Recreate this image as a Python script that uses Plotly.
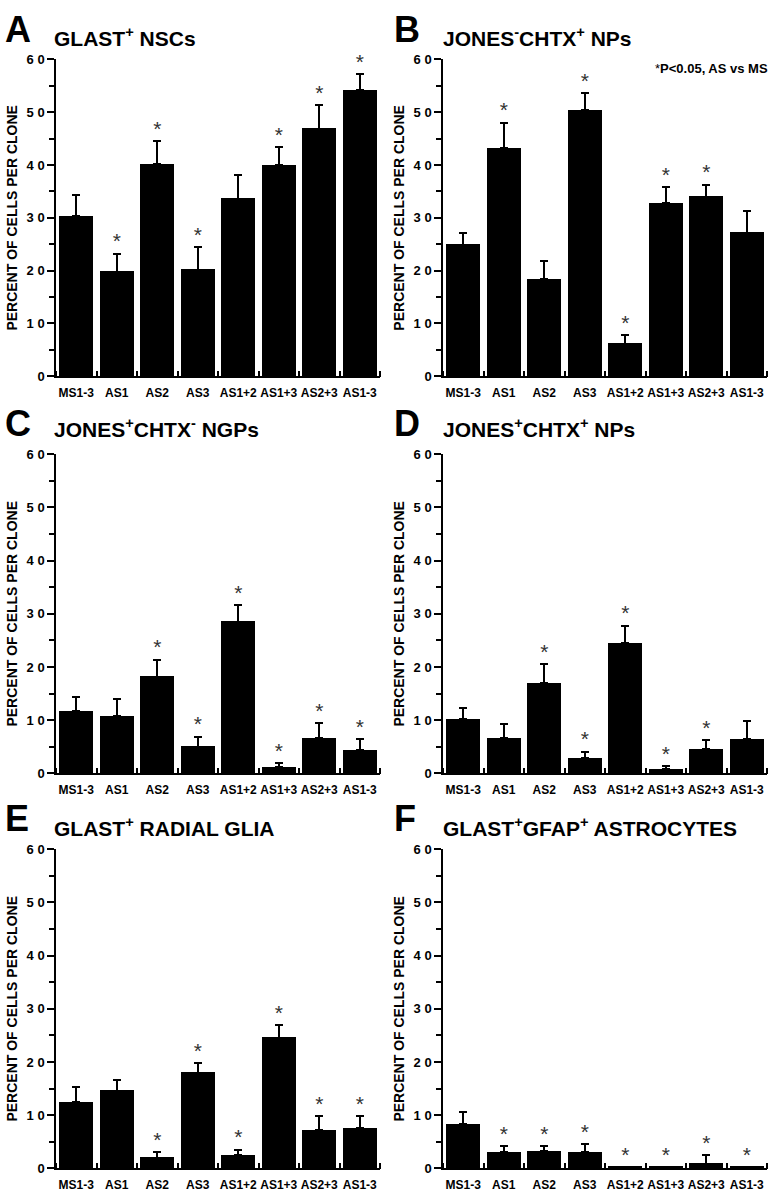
import plotly.graph_objects as go

categories = ["MS1-3", "AS1", "AS2", "AS3", "AS1+2", "AS1+3", "AS2+3", "AS1-3"]

# mean percent of cells per clone, upper SEM, significance flag (AS vs MS)
A_mean = [30.3, 19.8, 40.2, 20.2, 33.6, 40.0, 46.9, 54.2]
A_sem = [4.1, 3.4, 4.3, 4.3, 4.5, 3.4, 4.5, 3.0]
A_sig = [0, 1, 1, 1, 0, 1, 1, 1]

B_mean = [24.9, 43.2, 18.4, 50.4, 6.2, 32.8, 34.0, 27.2]
B_sem = [2.2, 4.8, 3.5, 3.2, 1.6, 3.0, 2.3, 4.0]
B_sig = [0, 1, 0, 1, 1, 1, 1, 0]

C_mean = [11.7, 10.7, 18.2, 5.0, 28.5, 1.1, 6.6, 4.3]
C_sem = [2.6, 3.3, 3.2, 1.9, 3.2, 0.8, 2.8, 2.1]
C_sig = [0, 0, 1, 1, 1, 1, 1, 1]

D_mean = [10.2, 6.6, 16.9, 2.8, 24.5, 0.8, 4.6, 6.4]
D_sem = [2.0, 2.6, 3.7, 1.3, 3.3, 0.6, 1.7, 3.5]
D_sig = [0, 0, 1, 1, 1, 1, 1, 0]

E_mean = [12.5, 14.6, 2.0, 18.0, 2.5, 24.6, 7.2, 7.6]
E_sem = [2.7, 2.1, 1.1, 1.8, 1.0, 2.4, 2.6, 2.2]
E_sig = [0, 0, 1, 1, 1, 1, 1, 1]

F_mean = [8.3, 3.0, 3.2, 3.0, 0.2, 0.2, 0.9, 0.2]
F_sem = [2.2, 1.2, 1.0, 1.5, 0.0, 0.0, 1.6, 0.0]
F_sig = [0, 1, 1, 1, 1, 1, 1, 1]

letters = ["A", "B", "C", "D", "E", "F"]
titles = [
    "GLAST<sup>+</sup> NSCs",
    "JONES<sup>-</sup>CHTX<sup>+</sup> NPs",
    "JONES<sup>+</sup>CHTX<sup>-</sup> NGPs",
    "JONES<sup>+</sup>CHTX<sup>+</sup> NPs",
    "GLAST<sup>+</sup> RADIAL GLIA",
    "GLAST<sup>+</sup>GFAP<sup>+</sup> ASTROCYTES",
]
y_ticks = [0, 10, 20, 30, 40, 50, 60]
y_ticktext = ["0", "1 0", "2 0", "3 0", "4 0", "5 0", "6 0"]
y_minor = [5, 15, 25, 35, 45, 55]
y_title = "PERCENT OF CELLS PER CLONE"
note = "*<b>P&lt;0.05, AS vs MS</b>"

panels = [
    (A_mean, A_sem, A_sig),
    (B_mean, B_sem, B_sig),
    (C_mean, C_sem, C_sig),
    (D_mean, D_sem, D_sig),
    (E_mean, E_sem, E_sig),
    (F_mean, F_sem, F_sig),
]

W, H = 772, 1200
FONT = "Liberation Sans"
col_x = [(56, 380), (443, 767)]
row_y = [(53, 374), (453, 776), (853, 1176)]
letter_x = [3, 392]
title_x = [52, 441]
letter_y = [23, 422, 822]
title_y = [30, 426, 830]

fig = go.Figure()
idx = [i for i in range(len(categories))]

for p, (mean, sem, sig) in enumerate(panels):
    r, c = divmod(p, 2)
    n = p + 1
    xa = "x" if n == 1 else f"x{n}"
    ya = "y" if n == 1 else f"y{n}"
    fig.add_trace(go.Bar(
        x=idx, y=mean, width=0.84,
        marker=dict(color="black", line=dict(width=0)),
        error_y=dict(type="data", symmetric=False, array=sem,
                     arrayminus=[0] * len(sem), color="black",
                     thickness=2, width=4),
        xaxis=xa, yaxis=ya, showlegend=False, hoverinfo="skip",
    ))
    sx = [i for i in idx if sig[i]]
    sy = [mean[i] + sem[i] for i in idx if sig[i]]
    fig.add_trace(go.Scatter(
        x=sx, y=sy, mode="text", text=["*"] * len(sx),
        textposition="top center",
        textfont=dict(family=FONT, size=21, color="#333333"),
        cliponaxis=False, xaxis=xa, yaxis=ya, showlegend=False,
        hoverinfo="skip",
    ))
    x0, x1 = col_x[c]
    y0, y1 = row_y[r]
    xkey = "xaxis" if n == 1 else f"xaxis{n}"
    ykey = "yaxis" if n == 1 else f"yaxis{n}"
    fig.update_layout({
        xkey: dict(
            domain=[x0 / W, x1 / W], anchor=ya, range=[-0.5, 7.5],
            tickvals=idx, ticktext=categories,
            ticks="outside", ticklen=5, tickcolor="rgba(0,0,0,0)",
            minor=dict(tick0=0.5, dtick=1, ticks="inside", ticklen=6,
                       tickwidth=1.5, tickcolor="black"),
            showline=True, linecolor="black", linewidth=1.5,
            showgrid=False, zeroline=False,
            tickfont=dict(family=FONT, size=12, color="black", weight="bold"),
        ),
        ykey: dict(
            domain=[1 - y1 / H, 1 - y0 / H], anchor=xa, range=[0, 60],
            tickvals=y_ticks, ticktext=y_ticktext,
            ticks="outside", ticklen=7, tickwidth=1.5, tickcolor="black",
            minor=dict(tickvals=y_minor, ticks="outside", ticklen=5,
                       tickwidth=1.5, tickcolor="black"),
            showline=True, linecolor="black", linewidth=1.5,
            showgrid=False, zeroline=False,
            tickfont=dict(family=FONT, size=13, color="black", weight="bold"),
            title=dict(text=y_title, standoff=6,
                       font=dict(family=FONT, size=14, color="black", weight="bold")),
        ),
    })
    fig.add_annotation(
        text=letters[p], xref="paper", yref="paper",
        x=letter_x[c] / W, y=1 - letter_y[r] / H, xanchor="left", yanchor="middle",
        showarrow=False,
        font=dict(family=FONT, size=36, color="black", weight="bold"),
    )
    fig.add_annotation(
        text=titles[p], xref="paper", yref="paper",
        x=title_x[c] / W, y=1 - title_y[r] / H, xanchor="left", yanchor="middle",
        showarrow=False,
        font=dict(family=FONT, size=21, color="black", weight="bold"),
    )

fig.add_annotation(
    text=note, xref="paper", yref="paper",
    x=770 / W, y=1 - 62 / H, xanchor="right", yanchor="middle",
    showarrow=False,
    font=dict(family=FONT, size=13, color="black"),
)

fig.update_layout(
    width=W, height=H,
    margin=dict(l=0, r=0, t=0, b=0),
    paper_bgcolor="white", plot_bgcolor="white",
    bargap=0,
)

fig.write_html(
    "out.html",
    config={"displayModeBar": False},
    post_script="document.body.style.margin='0';document.body.style.overflow='hidden';",
)
